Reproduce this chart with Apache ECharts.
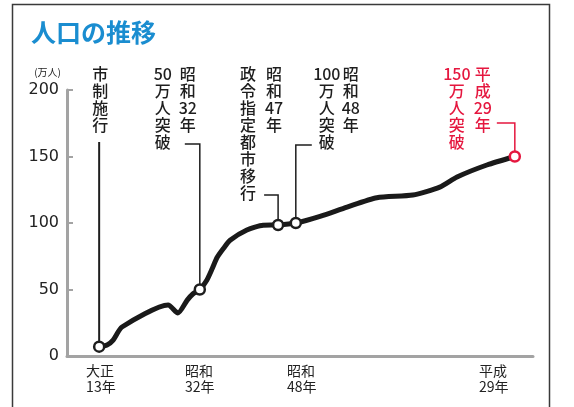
<!DOCTYPE html>
<html>
<head>
<meta charset="utf-8">
<script src="https://cdn.jsdelivr.net/npm/echarts@6/dist/echarts.min.js"></script>
<style>
html,body{margin:0;padding:0;background:#fff;}
#c{width:574px;height:407px;}
</style>
</head>
<body>
<div id="c"></div>
<script>
// ---- data (x = position along the chart's schematic timeline, 0-100) ----
const curveT = [6.9, 8.6, 9.9, 11.8, 21.7, 23.8, 25.8, 27.0, 28.5, 30.0, 31.2, 32.2, 33.6, 35.0, 38.6, 42.1, 45.3, 49.1, 54.3, 60.1, 66.5, 74.2, 80.0, 83.7, 90.1, 96.1];
const curveV = [7, 8.3, 12, 21.8, 38.3, 32.3, 42, 46.6, 50, 57, 66, 74, 81, 87, 94.7, 98.3, 98.5, 100, 105, 112, 119, 121, 127, 134.6, 143.6, 150];

const eventT = [6.9, 28.5, 45.3, 49.1, 96.1];
const eventV = [7, 50, 98.5, 100, 150];
const eventEra = ['', '昭和32年', '昭和47年', '昭和48年', '平成29年'];
const eventNote = ['市制施行', '50万人突破', '政令指定都市移行', '100万人突破', '150万人突破'];

const xTickPos = [4.1, 25.3, 47.2, 88.4];
const xTickLabels = ['大正\n13年', '昭和\n32年', '昭和\n48年', '平成\n29年'];
const yTicks = [0, 50, 100, 150, 200];

// ---- layout / style of annotations (pixels) ----
const annotLayout = [
  {eraDx: null, noteDx: 1, stubY: 142, stub: 0, lw: 2, color: '#1e1e1e'},
  {eraDx: -12, noteDx: -37, stubY: 144, stub: -15, lw: 1.5, color: '#1e1e1e'},
  {eraDx: -4, noteDx: -30, stubY: 195, stub: -14, lw: 1.5, color: '#1e1e1e'},
  {eraDx: 55, noteDx: 31, stubY: 145, stub: 16, lw: 1.5, color: '#1e1e1e'},
  {eraDx: -32, noteDx: -58, stubY: 123, stub: -18, lw: 1.5, color: '#e5173f'}
];
const CJK = '"Noto Sans CJK JP", "Noto Sans", sans-serif';

function rows(s){ return (s.match(/\d+|./g) || []).join('\n'); }

const chart = echarts.init(document.getElementById('c'), null, {renderer: 'canvas'});
chart.setOption({
  animation: false,
  backgroundColor: '#fff',
  title: {
    text: '人口の推移', left: 26, top: 15,
    textStyle: {color: '#1a8dd0', fontSize: 25, fontWeight: 'bold', fontFamily: CJK}
  },
  graphic: [{
    type: 'rect', left: 10, top: 2, z: 0,
    shape: {width: 537, height: 430},
    style: {fill: null, stroke: '#3a3a3a', lineWidth: 1.5}
  }],
  grid: {left: 67, right: 41, top: 90, bottom: 51},
  xAxis: {
    type: 'value', min: 0, max: 100,
    axisLine: {show: true, onZero: false, lineStyle: {color: '#a3a3a3', width: 3}},
    axisTick: {show: false},
    splitLine: {show: false},
    axisLabel: {
      customValues: xTickPos,
      align: 'left', margin: 7,
      color: '#222', fontSize: 14, lineHeight: 16, fontFamily: CJK,
      formatter: function (v) {
        const i = xTickPos.findIndex(p => Math.abs(p - v) < 1e-6);
        return i >= 0 ? xTickLabels[i] : '';
      }
    }
  },
  yAxis: {
    type: 'value', min: 0, max: 200, interval: 50,
    name: '(万人)',
    nameLocation: 'end', nameGap: 13,
    nameTextStyle: {color: '#222', fontSize: 10, fontFamily: CJK, align: 'right', padding: [0, 6, 0, 0]},
    axisLine: {show: true, lineStyle: {color: '#a3a3a3', width: 3}},
    axisTick: {show: true, inside: true, length: 6, lineStyle: {color: '#a3a3a3', width: 2}},
    splitLine: {show: false},
    axisLabel: {
      margin: 8, color: '#222', fontSize: 16, fontFamily: '"DejaVu Sans", sans-serif',
      formatter: function (v) { return yTicks.indexOf(v) >= 0 ? String(v) : ''; }
    }
  },
  series: [{
    type: 'line', z: 2,
    data: curveT.map((t, i) => [t, curveV[i]]),
    smooth: 0.22, showSymbol: false, symbol: 'none',
    lineStyle: {color: '#1a1a1a', width: 5, cap: 'round', join: 'round'}
  }, {
    type: 'custom', z: 5,
    data: eventT.map((t, i) => [t, eventV[i]]),
    renderItem: function (params, api) {
      const i = params.dataIndex;
      const pt = api.coord([api.value(0), api.value(1)]);
      const a = annotLayout[i];
      const children = [];
      const pts = [];
      if (a.stub !== 0) pts.push([pt[0] + a.stub, a.stubY]);
      pts.push([pt[0], a.stubY]);
      pts.push([pt[0], pt[1]]);
      children.push({type: 'polyline', shape: {points: pts}, style: {stroke: a.color, lineWidth: a.lw, fill: null}});
      const cols = [];
      if (a.eraDx !== null && eventEra[i]) cols.push([a.eraDx, eventEra[i]]);
      cols.push([a.noteDx, eventNote[i]]);
      cols.forEach(c => {
        children.push({
          type: 'text', x: pt[0] + c[0], y: 65,
          style: {text: rows(c[1]), fill: a.color, fontSize: 16, fontWeight: 500, fontFamily: CJK,
                  align: 'center', verticalAlign: 'top', lineHeight: 17}
        });
      });
      children.push({type: 'circle', shape: {cx: pt[0], cy: pt[1], r: 5}, style: {fill: '#fff', stroke: a.color, lineWidth: 2.5}});
      return {type: 'group', children: children};
    }
  }]
});
</script>
</body>
</html>
